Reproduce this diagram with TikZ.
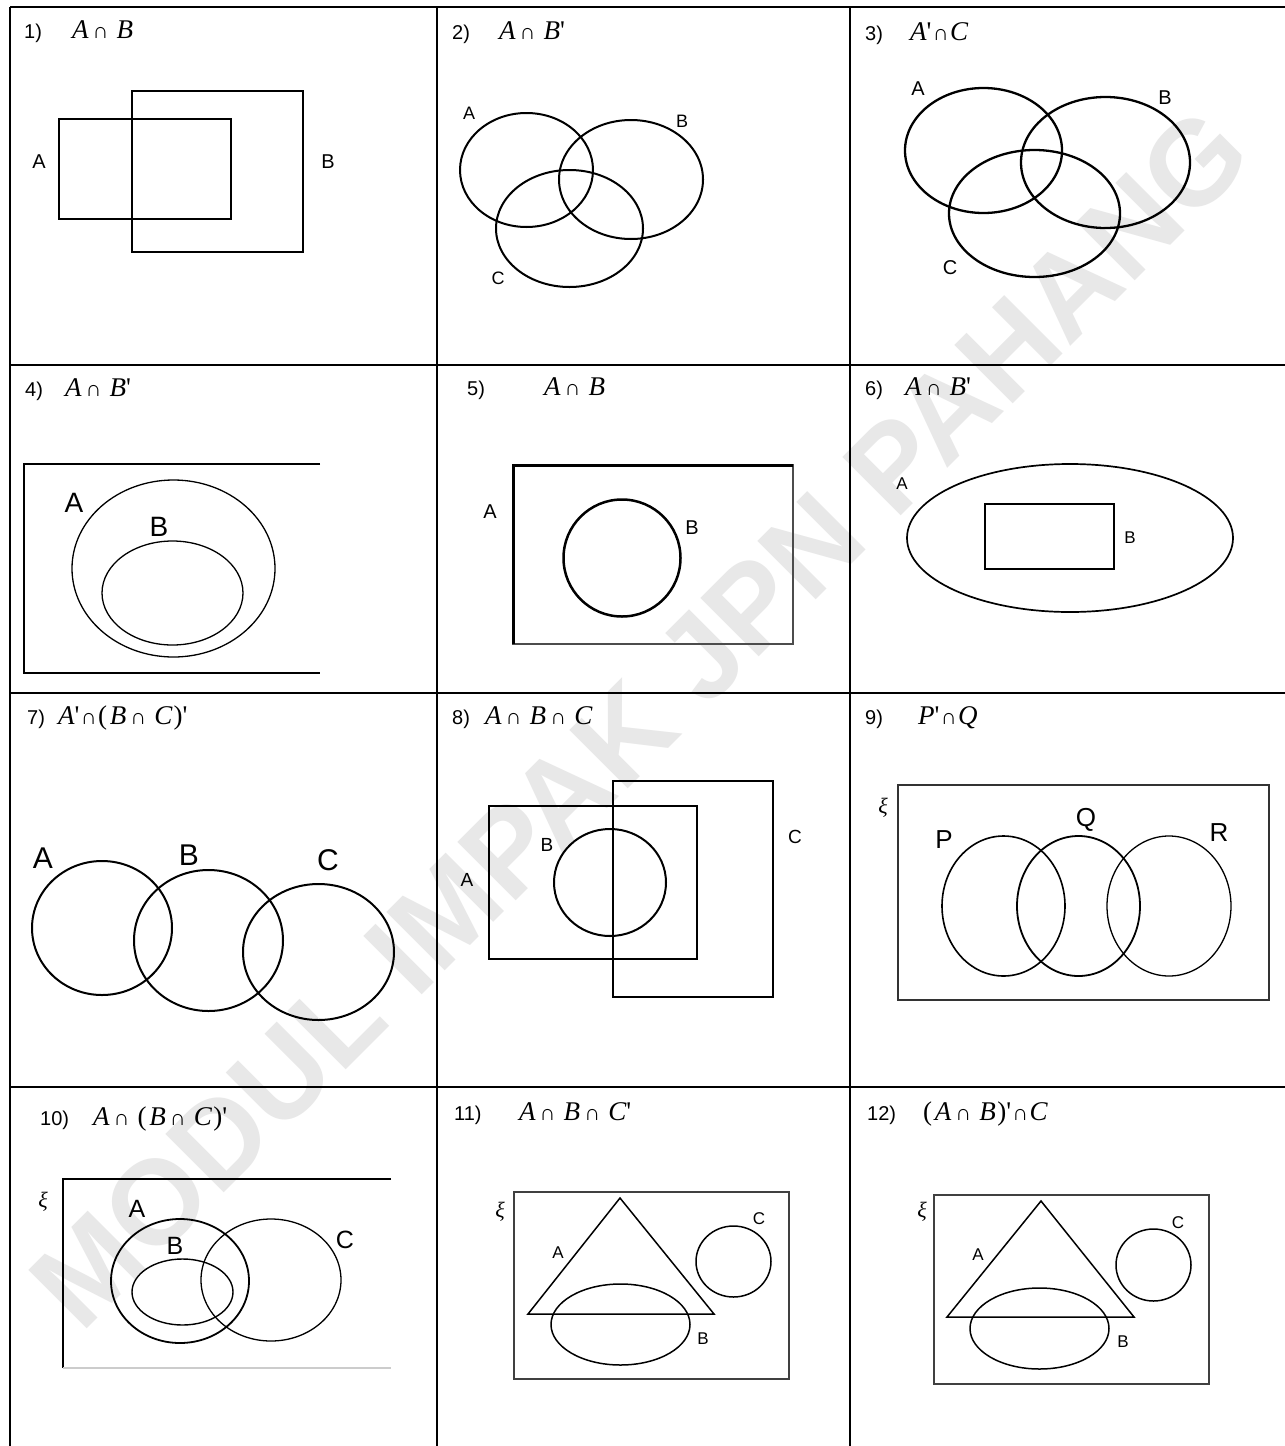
\documentclass[tikz,border=0pt]{standalone}
\usepackage{fontspec}
\setmainfont{Liberation Sans}
\newfontfamily\tnr[Ligatures=TeXOff]{Liberation Serif}
\newfontfamily\wmfont{Liberation Sans}
\newcommand\capsym{{\upshape\fontsize{22}{22}\selectfont ∩}}
\newcommand\cp{\hspace{0.15em}\capsym\hspace{0.3em}}
\newcommand\cpt{\hspace{0.05em}\capsym\hspace{0.05em}}
\newcommand\pr{{\upshape '}}
\newcommand\lp{{\upshape(}\hspace{0.1em}}
\newcommand\rp{\hspace{0.05em}{\upshape)}}
\begin{document}
\begin{tikzpicture}[x=1pt,y=-1pt,
  gridline/.style={line width=2.5pt},
  shp/.style={line width=2pt},
  num/.style={anchor=base west, inner sep=0pt, font=\fontsize{20}{20}\selectfont},
  expr/.style={anchor=base west, inner sep=0pt, font=\tnr\itshape\fontsize{27}{27}\selectfont},
  lbl/.style={inner sep=0pt, font=\fontsize{#1}{#1}\selectfont},
  xi/.style={inner sep=0pt, font=\tnr\itshape\fontsize{22}{22}\selectfont}
]
\useasboundingbox (0,0) rectangle (1285,1446);
\fill[white] (0,0) rectangle (1285,1446);
% watermark
\node[rotate=45, text=black!9, inner sep=0pt, font=\wmfont\bfseries\fontsize{120}{120}\selectfont] (wm) at (640,718) {MODUL IMPAK JPN PAHANG};
% grid
\draw[gridline] (10,7) -- (1285,7);
\draw[gridline] (10,365) -- (1285,365);
\draw[gridline] (10,693) -- (1285,693);
\draw[gridline] (10,1087) -- (1285,1087);
\draw[gridline] (10,7) -- (10,1446);
\draw[gridline] (437,7) -- (437,1446);
\draw[gridline] (850,7) -- (850,1446);

% ---------- Panel 1
\node[num] (n1) at (24,38) {1)};
\node[expr] (e1) at (72,38) {A\cp B};
\draw[shp] (59,119) rectangle (231,219);
\draw[shp] (132,91) rectangle (303,252);
\node[lbl=20] (p1a) at (39,162) {A};
\node[lbl=20] (p1b) at (328,162) {B};

% ---------- Panel 2
\node[num] (n2) at (452,39) {2)};
\node[expr] (e2) at (499,39) {A\cp B\pr};
\draw[shp] (526.5,170) ellipse [x radius=66.5pt, y radius=57pt];
\draw[shp] (631,179.5) ellipse [x radius=72pt, y radius=59.5pt];
\draw[shp] (569.5,228.5) ellipse [x radius=73.5pt, y radius=58.5pt];
\node[lbl=18] (p2a) at (469,113) {A};
\node[lbl=18] (p2b) at (682,121) {B};
\node[lbl=18] (p2c) at (498,278) {C};

% ---------- Panel 3
\node[num] (n3) at (865,40) {3)};
\node[expr] (e3) at (910,40) {A\pr\cpt C};
\draw[line width=2.3pt] (983.5,150.5) ellipse [x radius=78.5pt, y radius=62.5pt];
\draw[line width=2.3pt] (1105.5,162.5) ellipse [x radius=84.5pt, y radius=65.5pt];
\draw[line width=2.3pt] (1034.5,213.5) ellipse [x radius=85.5pt, y radius=63.5pt];
\node[lbl=20] (p3a) at (918,89) {A};
\node[lbl=20] (p3b) at (1165,98) {B};
\node[lbl=20] (p3c) at (950,268) {C};

% ---------- Panel 4
\node[num] (n4) at (25,396) {4)};
\node[expr] (e4) at (65,396) {A\cp B\pr};
\draw[line width=1.8pt] (320,464) -- (24,464) -- (24,673) -- (320,673);
\draw[line width=1.3pt] (173.5,568.5) ellipse [x radius=101.5pt, y radius=88.5pt];
\draw[line width=1.3pt] (172.5,593) ellipse [x radius=70.5pt, y radius=52pt];
\node[lbl=28] (p4a) at (74,503) {A};
\node[lbl=28] (p4b) at (159,527) {B};

% ---------- Panel 5
\node[num] (n5) at (467,395) {5)};
\node[expr] (e5) at (544,395) {A\cp B};
\draw[line width=1.6pt, black!70] (513,465) rectangle (793,644);
\draw[line width=3pt] (513,644) -- (513,465) -- (793,465);
\draw[line width=2.5pt] (622,558) circle [radius=58.5pt];
\node[lbl=20] (p5a) at (490,512) {A};
\node[lbl=20] (p5b) at (692,528) {B};

% ---------- Panel 6
\node[num] (n6) at (865,395) {6)};
\node[expr] (e6) at (905,395) {A\cp B\pr};
\draw[line width=1.7pt] (1070,538) ellipse [x radius=163pt, y radius=74pt];
\draw[line width=1.7pt] (985,504) rectangle (1114,569);
\node[lbl=17] (p6a) at (902,484) {A};
\node[lbl=17] (p6b) at (1130,538) {B};

% ---------- Panel 7
\node[num] (n7) at (27,724) {7)};
\node[expr] (e7) at (58,724) {A\pr\cpt\lp B\cp C\rp\pr};
\draw[shp] (102,928) ellipse [x radius=70pt, y radius=67pt];
\draw[shp] (208.5,940.5) ellipse [x radius=74.5pt, y radius=70.5pt];
\draw[shp] (318.5,952) ellipse [x radius=75.5pt, y radius=68pt];
\node[lbl=30] (p7a) at (43,858) {A};
\node[lbl=30] (p7b) at (189,855) {B};
\node[lbl=30] (p7c) at (328,860) {C};

% ---------- Panel 8
\node[num] (n8) at (452,724) {8)};
\node[expr] (e8) at (485,724) {A\cp B\cp C};
\draw[line width=2.5pt] (489,806) rectangle (697,959);
\draw[line width=2.8pt] (613,781) rectangle (773,997);
\draw[shp] (610,882.5) ellipse [x radius=56pt, y radius=53.5pt];
\node[lbl=19] (p8a) at (467,880) {A};
\node[lbl=19] (p8b) at (547,845) {B};
\node[lbl=19] (p8c) at (795,837) {C};

% ---------- Panel 9
\node[num] (n9) at (865,724) {9)};
\node[expr] (e9) at (918,724) {P\pr\cpt Q};
\draw[line width=1.7pt, black!80] (898,785) rectangle (1269,1000);
\draw[line width=1.6pt] (1003.5,906) ellipse [x radius=61.5pt, y radius=70pt];
\draw[line width=1.8pt] (1078.5,906) ellipse [x radius=61.5pt, y radius=70pt];
\draw[line width=1.3pt] (1169,906) ellipse [x radius=62pt, y radius=70pt];
\node[lbl=26] (p9p) at (944,840) {P};
\node[lbl=26] (p9q) at (1086,820) {Q};
\node[lbl=26] (p9r) at (1219,833) {R};
\node[xi] (x9) at (883,808) {ξ};

% ---------- Panel 10
\node[num] (n10) at (40,1125) {10)};
\node[expr] (e10) at (93,1125) {A\cp\lp B\cp C\rp\pr};
\draw[line width=1.8pt] (391,1179) -- (63,1179) -- (63,1368);
\draw[line width=1.3pt, black!20] (63,1368) -- (391,1368);
\draw[line width=1.8pt] (180,1281) ellipse [x radius=69pt, y radius=62pt];
\draw[line width=1.4pt] (182.5,1292) ellipse [x radius=50.5pt, y radius=33pt];
\draw[line width=1.3pt] (271,1280) ellipse [x radius=70pt, y radius=61pt];
\node[lbl=25] (p10a) at (137,1209) {A};
\node[lbl=25] (p10b) at (175,1246) {B};
\node[lbl=25] (p10c) at (345,1240) {C};
\node[xi] (x10) at (43,1202) {ξ};

% ---------- Panel 11
\node[num] (n11) at (454,1120) {11)};
\node[expr] (e11) at (519,1120) {A\cp B\cp C\pr};
\draw[line width=2pt, black!75] (514,1192) rectangle (789,1379);
\draw[line width=1.5pt] (620,1198) -- (528,1314) -- (714,1314) -- cycle;
\draw[line width=1.5pt] (620.5,1324.5) ellipse [x radius=69.5pt, y radius=40.5pt];
\draw[line width=1.5pt] (733.5,1261.5) ellipse [x radius=37.5pt, y radius=35.5pt];
\node[lbl=17] (p11a) at (558,1253) {A};
\node[lbl=17] (p11b) at (703,1339) {B};
\node[lbl=17] (p11c) at (759,1219) {C};
\node[xi] (x11) at (500,1212) {ξ};

% ---------- Panel 12
\node[num] (n12) at (867,1120) {12)};
\node[expr] (e12) at (923,1120) {\lp A\cp B\rp\pr\cpt C};
\draw[line width=2pt, black!75] (934,1195) rectangle (1209,1384);
\draw[line width=1.5pt] (1041,1201) -- (947,1317) -- (1134,1317) -- cycle;
\draw[line width=1.5pt] (1039.5,1328.5) ellipse [x radius=69.5pt, y radius=40.5pt];
\draw[line width=1.5pt] (1153.5,1265) ellipse [x radius=37.5pt, y radius=36pt];
\node[lbl=17] (p12a) at (978,1255) {A};
\node[lbl=17] (p12b) at (1123,1342) {B};
\node[lbl=17] (p12c) at (1178,1223) {C};
\node[xi] (x12) at (922,1212) {ξ};
\end{tikzpicture}
\end{document}
